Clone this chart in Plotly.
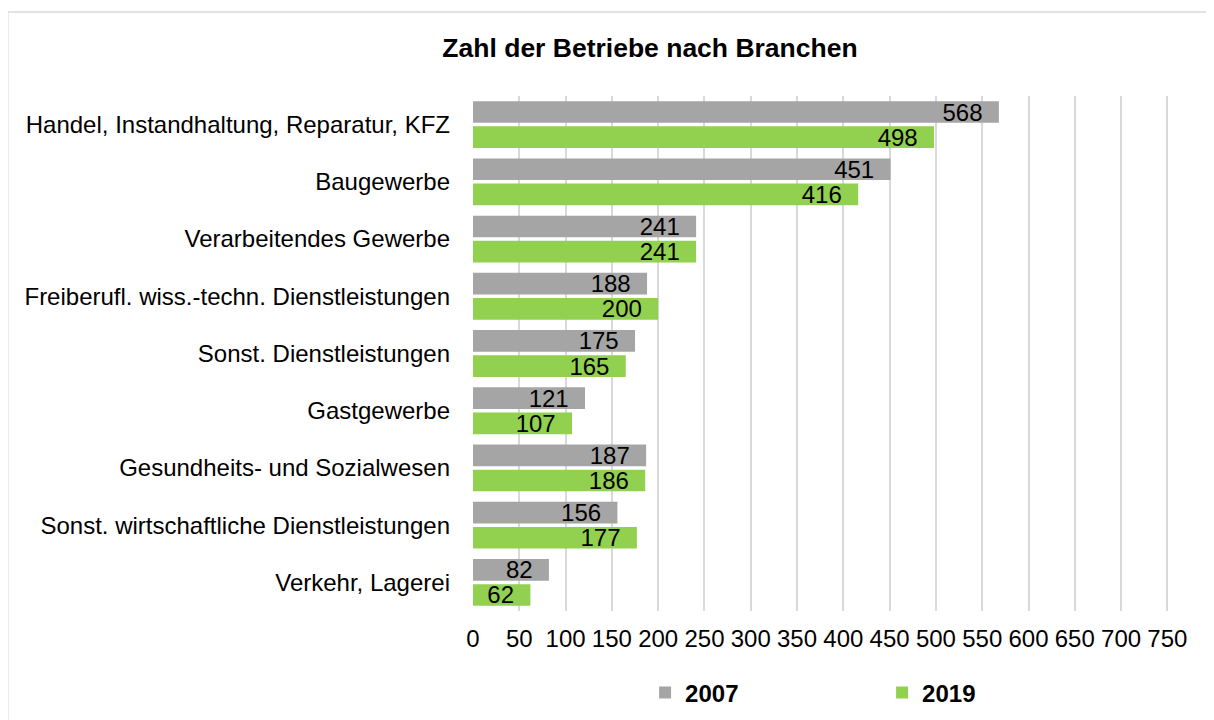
import plotly.graph_objects as go

categories = [
    "Handel, Instandhaltung, Reparatur, KFZ",
    "Baugewerbe",
    "Verarbeitendes Gewerbe",
    "Freiberufl. wiss.-techn. Dienstleistungen",
    "Sonst. Dienstleistungen",
    "Gastgewerbe",
    "Gesundheits- und Sozialwesen",
    "Sonst. wirtschaftliche Dienstleistungen",
    "Verkehr, Lagerei",
]
values_2007 = [568, 451, 241, 188, 175, 121, 187, 156, 82]
values_2019 = [498, 416, 241, 200, 165, 107, 186, 177, 62]
tick_values = list(range(0, 751, 50))

FONT = "Liberation Sans, Arial, sans-serif"
FS = 24

fig = go.Figure()
for name, vals, col in [("2007", values_2007, "#a5a5a5"), ("2019", values_2019, "#92d050")]:
    fig.add_trace(go.Bar(
        y=categories, x=vals, orientation="h", name="<b>%s</b>" % name,
        marker=dict(color=col, line=dict(width=0)),
        text=[str(v) + "\u00a0\u00a0" for v in vals], textposition="inside", insidetextanchor="end",
        constraintext="none", cliponaxis=False, textangle=0,
        textfont=dict(family=FONT, size=FS, color="#000000"),
    ))

# page body has an 8px margin: work in screen coordinates and subtract it
O = 8
W, H = 1214 - O, 720 - O
XMAX = 755
x0_s, x750_s = 473, 1167
plot_right_s = x0_s + (x750_s - x0_s) * XMAX / 750
top_s, bottom_s = 96, 611
L = x0_s - O
R = 1214 - plot_right_s
T = top_s - O
B = 720 - bottom_s
pw, ph = W - L - R, H - T - B

def px_x(xs):
    return (xs - O - L) / pw

def px_y(ys):
    return (H - B - (ys - O)) / ph

fig.update_layout(
    width=W, height=H,
    margin=dict(l=L, r=R, t=T, b=B, autoexpand=False),
    paper_bgcolor="white", plot_bgcolor="white",
    font=dict(family=FONT, color="#000000"),
    barmode="group", bargap=0.12, bargroupgap=0.14,
    title=dict(text="<b>Zahl der Betriebe nach Branchen</b>", x=(650 - O) / W, xanchor="center",
               y=1 - (48 - O) / H, yanchor="middle", yref="container",
               font=dict(family=FONT, size=26.5, color="#000000")),
    xaxis=dict(range=[0, XMAX], tickvals=tick_values, showgrid=True, gridcolor="#d9d9d9",
               gridwidth=2, zeroline=False, showline=False, ticks="", ticklabelstandoff=11,
               automargin=False,
               tickfont=dict(family=FONT, size=FS, color="#000000")),
    yaxis=dict(autorange="reversed", showgrid=False, zeroline=False, showline=False,
               ticks="", ticklabelstandoff=22, automargin=False,
               tickfont=dict(family=FONT, size=FS, color="#000000")),
    legend=dict(orientation="h", x=px_x(645), xanchor="left", y=px_y(693), yanchor="middle",
                entrywidth=192, entrywidthmode="pixels",
                font=dict(family=FONT, size=FS, color="#000000"), traceorder="normal"),
    shapes=[dict(type="rect", xref="paper", yref="paper", x0=px_x(8), x1=px_x(1240),
                 y0=px_y(760), y1=px_y(12), line=dict(color="#d9d9d9", width=1.5),
                 layer="below")],
    showlegend=True,
)

fig.write_html("out.html")
